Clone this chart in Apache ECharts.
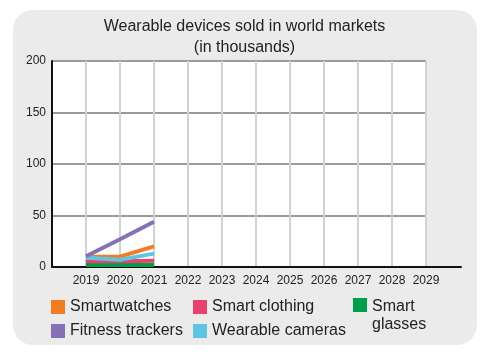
<!DOCTYPE html>
<html><head><meta charset="utf-8">
<script src="https://cdn.jsdelivr.net/npm/echarts@6/dist/echarts.min.js"></script>
<style>html,body{margin:0;padding:0;background:#fff}#c{width:489px;height:357px}</style>
</head><body><div id="c"></div>
<script>
var years = [2019, 2020, 2021];
var smartwatches = [10, 10, 20];
var fitnessTrackers = [10.5, 27, 44];
var smartClothing = [5.5, 5.5, 6];
var wearableCameras = [9, 7, 13];
var smartGlasses = [2, 2, 2];
var yTicks = [0, 50, 100, 150, 200];
var xMin = 2018, xMax = 2029;

var FONT = '"Liberation Sans", Arial, sans-serif';
function pts(v){ return years.map(function(y,i){ return [y, v[i]]; }); }
var colors = {
  'Smartwatches':'#f37b21', 'Fitness trackers':'#8671b6', 'Smart clothing':'#e8436f',
  'Wearable cameras':'#5ec6e1', 'Smart glasses':'#00a04b'
};
function ser(name, v, z){
  return {name:name, type:'line', data:pts(v), symbol:'none', z:z,
    lineStyle:{width:4, color:colors[name]}, itemStyle:{color:colors[name]}, xAxisIndex:0, yAxisIndex:0};
}
var chart = echarts.init(document.getElementById('c'), null, {renderer:'canvas'});
var legText = {fontFamily:FONT, fontSize:16, color:'#222'};
chart.setOption({
  animation:false,
  backgroundColor:'#fff',
  graphic:[{type:'rect', z:-10, shape:{x:13, y:10, width:464, height:335, r:20}, style:{fill:'#ebebeb'}}],
  title:{text:'Wearable devices sold in world markets\n(in thousands)', left:'center', top:11,
    textStyle:{fontFamily:FONT, fontSize:16, fontWeight:'normal', color:'#222', lineHeight:21}},
  grid:[
    {left:52, top:61, width:374, height:206, show:true, backgroundColor:'#fff', borderWidth:0},
    {left:426, top:61, width:35, height:206, show:false}
  ],
  xAxis:[
    {type:'value', gridIndex:0, min:xMin, max:xMax, interval:1,
     axisLine:{lineStyle:{color:'#111', width:2}}, axisTick:{show:false},
     axisLabel:{fontFamily:FONT, fontSize:12, color:'#222', margin:8,
       formatter:function(v){ return v===xMin ? '' : String(v); }},
     splitLine:{show:true, lineStyle:{color:'#d2d2d2', width:2}}},
    {type:'value', gridIndex:1, min:0, max:1, axisLine:{lineStyle:{color:'#111', width:2}},
     axisTick:{show:false}, axisLabel:{show:false}, splitLine:{show:false}}
  ],
  yAxis:[
    {type:'value', gridIndex:0, min:yTicks[0], max:yTicks[yTicks.length-1], interval:50,
     axisLine:{show:true, lineStyle:{color:'#111', width:2}}, axisTick:{show:false},
     axisLabel:{fontFamily:FONT, fontSize:12, color:'#222', margin:6},
     splitLine:{show:true, lineStyle:{color:'#9a9a9a', width:2}}},
    {type:'value', gridIndex:1, min:0, max:1, show:false}
  ],
  legend:[
    {left:51, top:299, padding:0, orient:'vertical', itemGap:8, itemWidth:14, itemHeight:14, icon:'rect',
     data:['Smartwatches','Fitness trackers'], textStyle:legText},
    {left:193, top:299, padding:0, orient:'vertical', itemGap:8, itemWidth:14, itemHeight:14, icon:'rect',
     data:['Smart clothing','Wearable cameras'], textStyle:legText},
    {left:353, top:298, padding:0, orient:'vertical', itemWidth:14, itemHeight:36,
     icon:'path://M0,0L14,0L14,14L0,14Z M0,36L0.01,36',
     data:['Smart glasses'], formatter:function(){ return 'Smart\nglasses'; },
     textStyle:Object.assign({lineHeight:18}, legText)}
  ],
  series:[
    ser('Smart glasses', smartGlasses, 2),
    ser('Smart clothing', smartClothing, 3),
    ser('Smartwatches', smartwatches, 4),
    ser('Wearable cameras', wearableCameras, 5),
    ser('Fitness trackers', fitnessTrackers, 6),
    {type:'line', data:[], xAxisIndex:1, yAxisIndex:1, silent:true}
  ]
});
</script></body></html>
